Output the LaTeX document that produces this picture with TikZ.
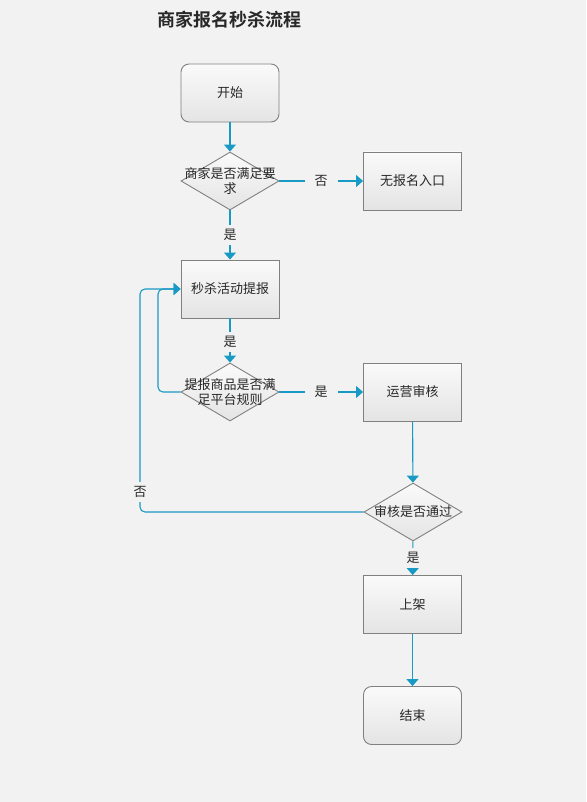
\documentclass[tikz,border=0pt]{standalone}
\usepackage{fontspec}
\setmainfont{Noto Sans CJK SC}[BoldFont={Noto Sans CJK SC Bold}]
\usetikzlibrary{shapes.geometric,arrows.meta}
\definecolor{bg}{RGB}{242,242,242}
\definecolor{ln}{RGB}{24,154,196}
\definecolor{bd}{RGB}{128,128,128}
\definecolor{tx}{RGB}{40,40,40}
\begin{document}
\begin{tikzpicture}[x=1pt,y=-1pt,
  base/.style={draw=bd, line width=0.9pt, top color={rgb,255:red,250;green,250;blue,250}, bottom color={rgb,255:red,228;green,228;blue,228}, text=tx, font=\fontsize{13}{15}\selectfont},
  proc/.style={base, rectangle, minimum width=98pt, minimum height=58pt, inner sep=0pt},
  term/.style={proc, rounded corners=8pt},
  dia/.style={base, diamond, minimum width=98pt, minimum height=58pt, inner sep=0pt},
  diatext/.style={text=tx, font=\fontsize{13}{15}\selectfont, align=center, inner sep=0pt},
  conn/.style={draw=ln, line width=1.1pt, -{Triangle[width=12pt,length=7pt]}},
  lbl/.style={fill=bg, text=tx, font=\fontsize{13}{15}\selectfont, inner xsep=10pt, inner ysep=4pt},
]
\fill[bg] (0,0) rectangle (586,802);
\useasboundingbox (0,0) rectangle (586,802);

\node[text=tx, font=\fontsize{18}{21}\selectfont\bfseries] (title) at (229,20) {商家报名秒杀流程};

\node[term] (start) at (230,93) {开始};
\node[dia] (d1) at (230,181) {};
\node[diatext] (d1t) at (230,181) {商家是否满足要\\求};
\node[proc] (noentry) at (412.5,181) {无报名入口};
\node[proc] (submit) at (230,289) {秒杀活动提报};
\node[dia] (d2) at (230,392) {};
\node[diatext] (d2t) at (230,392) {提报商品是否满\\足平台规则};
\node[proc] (review) at (412.5,392) {运营审核};
\node[dia] (d3) at (413,512) {};
\node[diatext] (d3t) at (413,512) {审核是否通过};
\node[proc] (shelf) at (412.5,604.5) {上架};
\node[term] (end) at (412.5,715.5) {结束};

\coordinate (lp1) at (158,289);
\coordinate (lp2) at (140,289);

\draw[conn] (start) -- (d1);
\draw[conn] (d1) -- (noentry);
\draw[conn] (d1) -- (submit);
\draw[conn] (submit) -- (d2);
\draw[conn] (d2) -- (review);
\draw[conn] (review) -- (d3);
\draw[conn] (d3) -- (shelf);
\draw[conn] (shelf) -- (end);
\draw[conn, rounded corners=5pt] (d2.west) -| (lp1) -- (submit.west);
\draw[conn, rounded corners=5pt] (d3.west) -| (lp2) -- (submit.west);

\node[lbl] (l1) at (321,181) {否};
\node[lbl] (l2) at (230,235) {是};
\node[lbl] (l3) at (230,342) {是};
\node[lbl] (l4) at (321,392) {是};
\node[lbl] (l5) at (140,492) {否};
\node[lbl] (l6) at (413,558) {是};
\end{tikzpicture}
\end{document}
